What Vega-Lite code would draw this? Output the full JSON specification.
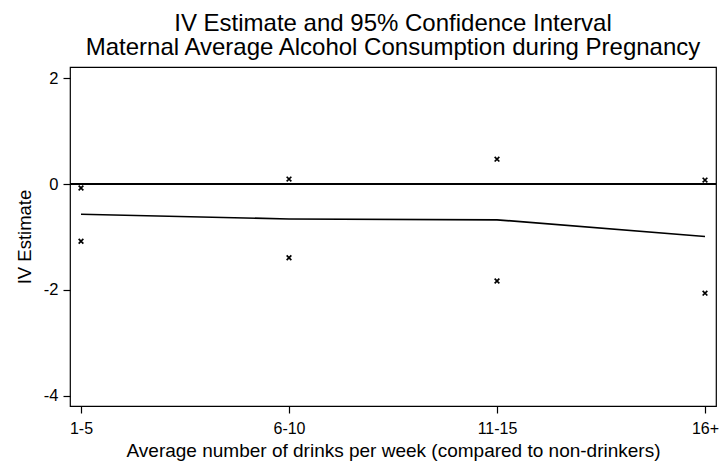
{
  "$schema": "https://vega.github.io/schema/vega-lite/v6.json",
  "autosize": "none",
  "width": 646,
  "height": 339,
  "padding": {"left": 70, "top": 67, "right": 7, "bottom": 59},
  "background": "white",
  "config": {
    "font": "Liberation Sans",
    "view": {"stroke": "black", "strokeWidth": 1.2},
    "axis": {"grid": false, "domainColor": "black", "tickColor": "black", "tickWidth": 1.2, "labelColor": "black", "titleColor": "black", "titleFontWeight": "normal", "labelFont": "Liberation Sans", "titleFont": "Liberation Sans"}
  },
  "title": {
    "text": ["IV Estimate and 95% Confidence Interval", "Maternal Average Alcohol Consumption during Pregnancy"],
    "fontSize": 24,
    "fontWeight": "normal",
    "color": "black",
    "font": "Liberation Sans",
    "anchor": "middle",
    "lineHeight": 24,
    "offset": 7
  },
  "data": {
    "values": [
      {"cat": "1-5", "est": -0.57, "lo": -1.08, "hi": -0.075},
      {"cat": "6-10", "est": -0.66, "lo": -1.39, "hi": 0.094},
      {"cat": "11-15", "est": -0.675, "lo": -1.83, "hi": 0.47},
      {"cat": "16+", "est": -0.99, "lo": -2.06, "hi": 0.075}
    ]
  },
  "layer": [
    {
      "mark": {"type": "rule", "color": "black", "strokeWidth": 1.5},
      "encoding": {"y": {"datum": 0, "type": "quantitative"}}
    },
    {
      "mark": {"type": "line", "color": "black", "strokeWidth": 1.7},
      "encoding": {
        "x": {
          "field": "cat", "type": "ordinal", "sort": ["1-5", "6-10", "11-15", "16+"],
          "scale": {"type": "point", "padding": 0.0529},
          "axis": {"title": "Average number of drinks per week (compared to non-drinkers)", "labelAngle": 0, "labelFontSize": 16, "titleFontSize": 19, "tickSize": 7, "labelPadding": 7, "titlePadding": 5, "domain": false}
        },
        "y": {
          "field": "est", "type": "quantitative",
          "scale": {"domain": [-4.19, 2.21], "nice": false, "zero": false},
          "axis": {"title": "IV Estimate", "values": [-4, -2, 0, 2], "labelExpr": "datum.value < 0 ? '-' + abs(datum.value) : '' + datum.value", "labelFontSize": 16.5, "titleFontSize": 18.5, "tickSize": 7, "labelPadding": 5, "titlePadding": 9, "domain": false}
        }
      }
    },
    {
      "mark": {"type": "point", "shape": "M-1,-1L1,1M-1,1L1,-1", "filled": false, "stroke": "black", "strokeWidth": 1.7, "size": 22, "opacity": 1},
      "encoding": {
        "x": {"field": "cat", "type": "ordinal", "sort": ["1-5", "6-10", "11-15", "16+"]},
        "y": {"field": "lo", "type": "quantitative"}
      }
    },
    {
      "mark": {"type": "point", "shape": "M-1,-1L1,1M-1,1L1,-1", "filled": false, "stroke": "black", "strokeWidth": 1.7, "size": 22, "opacity": 1},
      "encoding": {
        "x": {"field": "cat", "type": "ordinal", "sort": ["1-5", "6-10", "11-15", "16+"]},
        "y": {"field": "hi", "type": "quantitative"}
      }
    }
  ]
}
